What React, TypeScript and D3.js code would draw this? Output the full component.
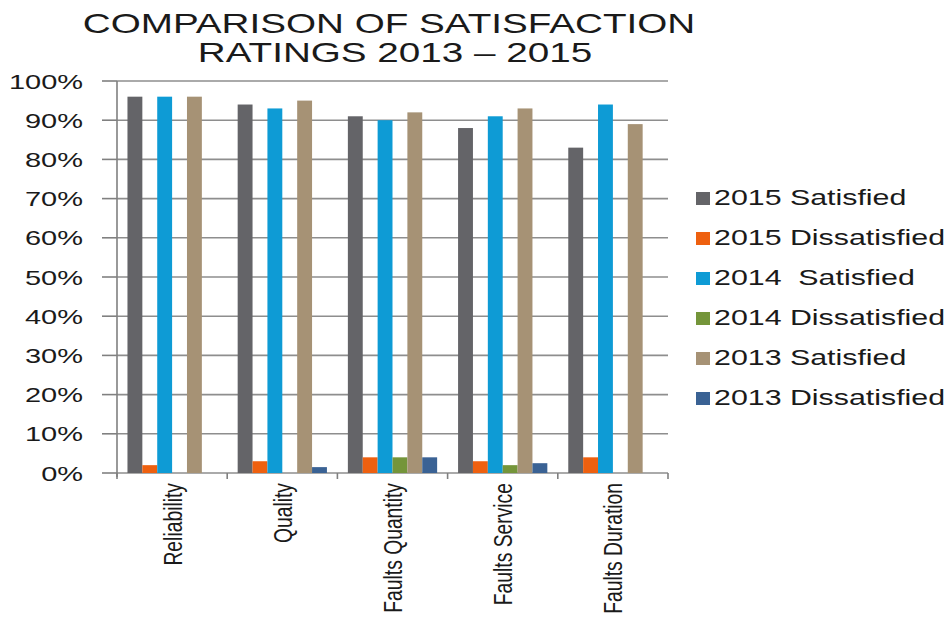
import React from "react";
import * as d3 from "d3";

const categories = ["Reliability", "Quality", "Faults Quantity", "Faults Service", "Faults Duration"];
const seriesNames = ["2015 Satisfied", "2015 Dissatisfied", "2014  Satisfied", "2014 Dissatisfied", "2013 Satisfied", "2013 Dissatisfied"];
const sat2015 = [96, 94, 91, 88, 83];
const dis2015 = [2, 3, 4, 3, 4];
const sat2014 = [96, 93, 90, 91, 94];
const dis2014 = [0, 0, 4, 2, 0];
const sat2013 = [96, 95, 92, 93, 89];
const dis2013 = [0, 1.5, 4, 2.5, 0];
const yTicks = [0, 10, 20, 30, 40, 50, 60, 70, 80, 90, 100];
const titleLines = ["COMPARISON OF SATISFACTION", "RATINGS 2013 \u2013 2015"];

const seriesValues = [sat2015, dis2015, sat2014, dis2014, sat2013, dis2013];
const colors = ["#646468", "#ee600f", "#0e9bd5", "#74953a", "#a69275", "#3a6294"];

const W = 950;
const H = 619;
const SX = 1.38;
const FONT = "'Liberation Sans', Arial, sans-serif";

export default function App() {
  const left = 117;
  const right = 668;
  const top = 81;
  const bottom = 473;

  const y = d3.scaleLinear().domain([0, 100]).range([bottom, top]);
  const x0 = d3.scaleBand<string>().domain(categories).range([left, right]).padding(0);
  const bw = x0.bandwidth();
  const x1 = d3
    .scaleBand<string>()
    .domain(seriesNames)
    .range([bw * 0.095, bw * 0.905])
    .padding(0);

  const boundaries = categories.map((c) => x0(c) as number).concat([right]);

  return (
    <svg
      width={W}
      height={H}
      style={{ position: "absolute", left: 0, top: 0, background: "#fff" }}
      fontFamily={FONT}
    >
      <rect x={0} y={0} width={W} height={H} fill="#fff" />
      {/* Title */}
      <g transform={`translate(389,33) scale(${SX},1)`}>
        <text textAnchor="middle" fontSize={28} fill="#1a1a1a">
          {titleLines[0]}
        </text>
      </g>
      <g transform={`translate(395,62) scale(${SX},1)`}>
        <text textAnchor="middle" fontSize={28} fill="#1a1a1a">
          {titleLines[1]}
        </text>
      </g>

      {/* Gridlines */}
      {yTicks.map((t) => (
        <line
          key={"g" + t}
          x1={left}
          x2={right}
          y1={y(t)}
          y2={y(t)}
          stroke="#8e8e8e"
          strokeWidth={1.6}
        />
      ))}

      {/* Y axis */}
      <line x1={left} x2={left} y1={top} y2={bottom + 4} stroke="#808080" strokeWidth={1.6} />
      {yTicks.map((t) => (
        <g key={"t" + t}>
          <line x1={102} x2={left} y1={y(t)} y2={y(t)} stroke="#808080" strokeWidth={1.6} />
          <g transform={`translate(83,${y(t)}) scale(${SX},1)`}>
            <text textAnchor="end" dy="0.36em" fontSize={21} fill="#1a1a1a">
              {t + "%"}
            </text>
          </g>
        </g>
      ))}

      {/* X axis ticks */}
      {boundaries.map((b, i) => (
        <line key={"xb" + i} x1={b} x2={b} y1={bottom} y2={bottom + 6} stroke="#808080" strokeWidth={1.6} />
      ))}

      {/* Bars */}
      {categories.map((c, ci) => (
        <g key={c} transform={`translate(${x0(c)},0)`}>
          {seriesNames.map((s, si) => {
            const v = seriesValues[si][ci];
            if (v <= 0) return null;
            return (
              <rect
                key={s}
                x={x1(s) as number}
                y={y(v)}
                width={x1.bandwidth()}
                height={y(0) - y(v)}
                fill={colors[si]}
              />
            );
          })}
        </g>
      ))}

      {/* Category labels */}
      {categories.map((c) => (
        <g
          key={"l" + c}
          transform={`translate(${(x0(c) as number) + bw / 2},483) scale(${SX},1) rotate(-90)`}
        >
          <text textAnchor="end" dy="0.36em" fontSize={19.3} fill="#1a1a1a">
            {c}
          </text>
        </g>
      ))}

      {/* Legend */}
      {seriesNames.map((s, i) => {
        const by = 205 + i * 40;
        return (
          <g key={"lg" + s}>
            <rect x={696} y={by - 13} width={14} height={13} fill={colors[i]} />
            <g transform={`translate(714,${by}) scale(${SX},1)`}>
              <text fontSize={22} fill="#1a1a1a" style={{ whiteSpace: "pre" }}>
                {s}
              </text>
            </g>
          </g>
        );
      })}
    </svg>
  );
}
